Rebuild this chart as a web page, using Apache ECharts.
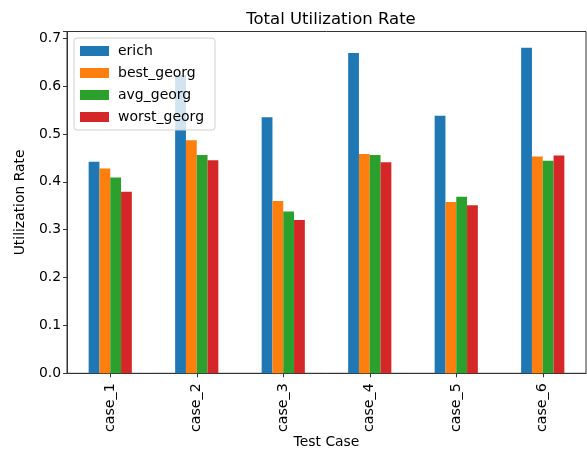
<!DOCTYPE html>
<html><head><meta charset="utf-8">
<script src="https://cdn.jsdelivr.net/npm/echarts@6/dist/echarts.min.js"></script>
<style>html,body{margin:0;padding:0;background:#fff}#c{width:587px;height:453px}</style>
</head><body><div id="c"></div>
<script>
const categories = ['case_1','case_2','case_3','case_4','case_5','case_6'];
const erich = [0.442, 0.623, 0.535, 0.669, 0.538, 0.680];
const best_georg = [0.428, 0.487, 0.360, 0.458, 0.358, 0.453];
const avg_georg = [0.409, 0.456, 0.338, 0.456, 0.369, 0.444];
const worst_georg = [0.379, 0.445, 0.320, 0.441, 0.351, 0.455];
const seriesNames = ['erich','best_georg','avg_georg','worst_georg'];
const colors = ['#1f77b4','#ff7f0e','#2ca02c','#d62728'];
const yTicks = [0, 0.1, 0.2, 0.3, 0.4, 0.5, 0.6, 0.7];

const FONT = 'DejaVu Sans';
const chart = echarts.init(document.getElementById('c'), null, {renderer:'canvas'});
const data = [erich, best_georg, avg_georg, worst_georg];
chart.setOption({
  animation: false,
  textStyle: {fontFamily: FONT},
  title: {text: 'Total Utilization Rate', left: 326, top: 6, textAlign: 'center',
    textStyle: {fontFamily: FONT, fontSize: 16.5, fontWeight: 'normal', color: '#000'}},
  legend: {
    orient: 'vertical', left: 74, top: 38, icon: 'rect',
    itemWidth: 29, itemHeight: 10, itemGap: 8,
    padding: [6, 11, 6, 6],
    backgroundColor: 'rgba(255,255,255,0.8)', borderColor: '#d0d0d0', borderWidth: 1, borderRadius: 3,
    textStyle: {fontFamily: FONT, fontSize: 14, color: '#000', padding: [0,0,0,4]},
    data: seriesNames
  },
  grid: {left: 67, right: 1, top: 31.5, bottom: 79.7, containLabel: false, outerBoundsMode: 'none',
    show: true, borderColor: '#333', borderWidth: 1},
  xAxis: {
    type: 'category', data: categories,
    axisLine: {show: true, lineStyle: {color: '#333'}},
    axisTick: {show: true, alignWithLabel: true, length: 4, lineStyle: {color: '#333'}},
    axisLabel: {rotate: 90, fontSize: 14.2, color: '#000', margin: 10, fontFamily: FONT},
    name: 'Test Case', nameLocation: 'middle', nameGap: 62, nameMoveOverlap: false,
    nameTextStyle: {fontSize: 13.9, color: '#000', fontFamily: FONT}
  },
  yAxis: {
    type: 'value', min: 0, max: 0.714, interval: 0.1,
    splitLine: {show: false},
    axisLine: {show: true, lineStyle: {color: '#333'}},
    axisTick: {show: true, length: 4, lineStyle: {color: '#333'}},
    axisLabel: {fontSize: 13.9, color: '#000', margin: 6, fontFamily: FONT,
      formatter: v => {
        const t = yTicks.find(x => Math.abs(x - v) < 1e-6);
        return t === undefined ? '' : t.toFixed(1);
      }},
    name: 'Utilization Rate', nameLocation: 'middle', nameGap: 40, nameMoveOverlap: false,
    nameTextStyle: {fontSize: 13.9, color: '#000', fontFamily: FONT}
  },
  series: seriesNames.map((n, i) => ({
    name: n, type: 'bar', data: data[i], barWidth: 10.8, barGap: '0%', barCategoryGap: '50%',
    itemStyle: {color: colors[i]}
  }))
});
</script></body></html>
